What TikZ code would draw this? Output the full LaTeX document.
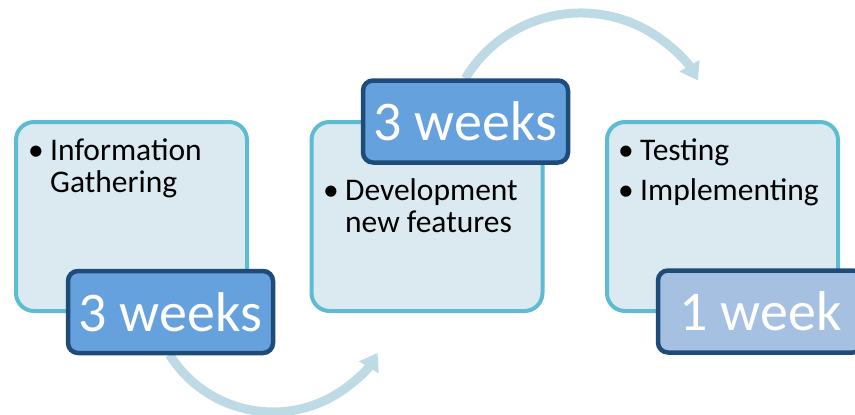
\documentclass[tikz,border=0pt]{standalone}
\usepackage{fontspec}
\setmainfont{Carlito}
\usetikzlibrary{arrows.meta,calc}
\definecolor{boxline}{HTML}{5DBCD2}
\definecolor{boxfill}{HTML}{DBEAF0}
\definecolor{labline}{HTML}{1F4B78}
\definecolor{labfill}{HTML}{64A1DD}
\definecolor{labfilllight}{HTML}{A6C0E1}
\definecolor{arrowcol}{HTML}{BEDBE5}
\tikzset{
  stagebox/.style={draw=boxline, fill=boxfill, line width=4pt, rounded corners=18pt,
    minimum width=231pt, minimum height=189pt, inner sep=0pt},
  durlabel/.style={draw=labline, fill=labfill, line width=4.5pt, rounded corners=10pt,
    minimum width=205pt, minimum height=82pt, inner sep=0pt, text=white,
    font=\fontsize{56}{60}\selectfont},
  bullettext/.style={anchor=base west, inner sep=0pt, align=left,
    font=\fontsize{31.5}{32}\selectfont},
  flowarrow/.style={draw=arrowcol, line width=9pt, -{Triangle[length=17pt,width=22pt]}}
}
\newcommand{\bul}{\makebox[22pt][l]{\textbullet}}
\begin{document}
\begin{tikzpicture}[x=1pt,y=1pt]
\useasboundingbox (0,0) rectangle (855,-415);
\clip (0,0) rectangle (855,-415);
% arrows (behind)
\coordinate (a1c) at (273,-290);
\coordinate (a2c) at (581,-148);
\coordinate (a1s) at ($(a1c)+(212:122)$);
\coordinate (a2s) at ($(a2c)+(149:135)$);
\draw[flowarrow] (a1s) arc (212:329:122);
\draw[flowarrow] (a2s) arc (149:30:135);
% stage boxes
\node[stagebox] (b1) at (131.5,-216.5) {};
\node[stagebox] (b2) at (427,-216.5) {};
\node[stagebox] (b3) at (722.5,-216.5) {};
% texts (anchor = baseline of the last line)
\node[bullettext] (t1) at (28,-192) {\bul Information\\\hspace{22pt}Gathering};
\node[bullettext] (t2) at (323,-232) {\bul Development\\\hspace{22pt}new features};
\node[bullettext] (t3) at (618,-200) {\bul Testing\\[8pt]\bul Implementing};
% duration labels
\node[durlabel] (l1) at (170.5,-312) {3 weeks};
\node[durlabel] (l2) at (465.5,-121.5) {3 weeks};
\node[durlabel, fill=labfilllight] (l3) at (760.5,-311.5) {1 week};
\end{tikzpicture}
\end{document}
